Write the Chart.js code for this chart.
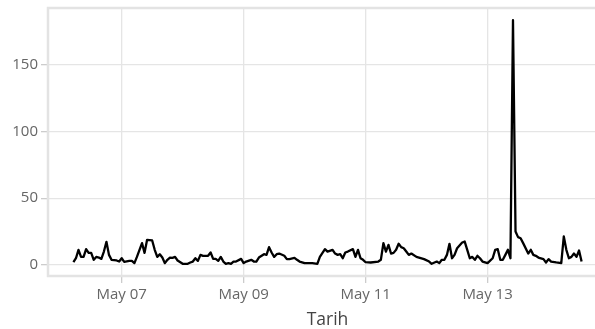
<!DOCTYPE html>
<html><head><meta charset="utf-8">
<script src="https://cdn.jsdelivr.net/npm/chart.js@4.4.1/dist/chart.umd.min.js"></script>
<style>
html,body{margin:0;padding:0;overflow:hidden;background:#fff;width:595px;height:329px}
#wrap{width:620px;height:329px}
</style></head><body>
<div id="wrap"><canvas id="c" width="620" height="329"></canvas></div>
<script>
const times = [
"05-06 05:00","05-06 06:00","05-06 07:00","05-06 08:00","05-06 09:00","05-06 10:00","05-06 11:00","05-06 12:00",
"05-06 13:00","05-06 14:00","05-06 15:00","05-06 16:00","05-06 17:00","05-06 18:00","05-06 19:00","05-06 20:00",
"05-06 22:00","05-06 23:00","05-07 00:00","05-07 01:00","05-07 03:00","05-07 04:00","05-07 05:00","05-07 06:00",
"05-07 08:00","05-07 09:00","05-07 10:00","05-07 12:00","05-07 13:00","05-07 14:00","05-07 15:00","05-07 16:00",
"05-07 17:00","05-07 18:00","05-07 19:00","05-07 20:00","05-07 21:00","05-07 22:00","05-08 00:00","05-08 02:00",
"05-08 03:00","05-08 04:00","05-08 05:00","05-08 06:00","05-08 07:00","05-08 08:00","05-08 10:00","05-08 11:00",
"05-08 12:00","05-08 13:00","05-08 14:00","05-08 15:00","05-08 16:00","05-08 17:00","05-08 18:00","05-08 19:00",
"05-08 20:00","05-08 21:00","05-08 23:00","05-09 00:00","05-09 01:00","05-09 03:00","05-09 04:00","05-09 05:00",
"05-09 06:00","05-09 08:00","05-09 09:00","05-09 10:00","05-09 11:00","05-09 12:00","05-09 13:00","05-09 14:00",
"05-09 16:00","05-09 17:00","05-09 18:00","05-09 20:00","05-09 21:00","05-09 22:00","05-10 00:00","05-10 03:00",
"05-10 05:00","05-10 06:00","05-10 08:00","05-10 09:00","05-10 11:00","05-10 12:00","05-10 13:00","05-10 14:00",
"05-10 15:00","05-10 16:00","05-10 17:00","05-10 19:00","05-10 20:00","05-10 21:00","05-10 22:00","05-10 23:00",
"05-11 00:00","05-11 02:00","05-11 05:00","05-11 06:00","05-11 07:00","05-11 08:00","05-11 09:00","05-11 10:00",
"05-11 11:00","05-11 12:00","05-11 13:00","05-11 14:00","05-11 15:00","05-11 16:00","05-11 17:00","05-11 18:00",
"05-11 20:00","05-11 21:00","05-11 23:00","05-12 01:00","05-12 02:00","05-12 04:00","05-12 05:00","05-12 06:00",
"05-12 07:00","05-12 08:00","05-12 09:00","05-12 10:00","05-12 11:00","05-12 12:00","05-12 14:00","05-12 15:00",
"05-12 16:00","05-12 17:00","05-12 18:00","05-12 19:00","05-12 20:00","05-12 21:00","05-12 22:00","05-13 00:00",
"05-13 02:00","05-13 03:00","05-13 04:00","05-13 05:00","05-13 06:00","05-13 07:00","05-13 08:00","05-13 09:00",
"05-13 10:00","05-13 11:00","05-13 12:00","05-13 13:00","05-13 14:00","05-13 16:00","05-13 17:00","05-13 18:00",
"05-13 19:00","05-13 20:00","05-13 22:00","05-13 23:00","05-14 00:00","05-14 01:00","05-14 03:00","05-14 05:00",
"05-14 06:00","05-14 07:00","05-14 08:00","05-14 09:00","05-14 10:00","05-14 11:00","05-14 12:00","05-14 13:00"
];
const values = [
2,5,11.3,6,6,11.8,9,9,
3.8,6,5.5,4.5,10,17.3,7.5,3.8,
3.3,2.5,5,2.3,3,3,1.3,6,
16.3,9,18.8,18.3,11.3,6,8,5.5,
1.3,3.8,5.5,5.3,6,3.3,0.8,0.8,
1.8,2.5,5,3,7.5,6.8,6.8,9.3,
4.5,4.5,3,6,2.5,0.8,1.3,0.8,
2.5,2.5,4.5,1.3,2.5,3.8,2.5,2.5,
5.5,8,7.5,13.3,9.3,6,8,8.5,
6.8,4.3,4.3,5.3,3.8,2.5,1.3,1.3,
0.8,6,11.8,10,11.3,8.5,7.5,8,
5,9.3,10,11.8,6,11.3,5,3.8,
2,1.8,2.5,3.8,16.3,10,15,8.5,
9,11.3,15.8,13.3,12.5,10,7.5,8.5,
6,5.5,4.3,2.5,0.8,2.5,1.3,3.8,
3.8,7.5,15.8,5,7.5,12.5,16.8,17.5,
11.3,5,6,3.8,6.8,5,2.5,1.3,
5,11.3,11.8,3.8,3.8,7.5,11.3,5,
183.5,25,20.8,20,16.3,8.5,11.3,7.5,
6.8,5.5,4.3,1.8,4.3,2.5,1.8,1.3,
21.3,11.3,5,6,8.5,6,10.8,2.5
];
const xTickTimes = ["05-07 00:00","05-09 00:00","05-11 00:00","05-13 00:00"];
const xTickLabels = ["May 07","May 09","May 11","May 13"];
const yTickValues = [0,50,100,150];
const xTitle = "Tarih";

function toHours(s){
  const [md, hm] = s.split(' ');
  const [mo, d] = md.split('-').map(Number);
  const [H, M] = hm.split(':').map(Number);
  return Date.UTC(2024, mo-1, d, H, M) / 3600000;
}
const xs = times.map(toHours);
const points = xs.map((x,i)=>({x:x, y:values[i]}));
const xMinD = Math.min(...xs), xMaxD = Math.max(...xs), xPad = 0.05*(xMaxD-xMinD);
const yMinD = Math.min(...values), yMaxD = Math.max(...values), yPad = 0.05*(yMaxD-yMinD);
const tickXs = xTickTimes.map(toHours);

const frame = {
  id:'frame',
  beforeDatasetsDraw(chart){
    const {ctx, chartArea:a} = chart;
    ctx.save();
    ctx.strokeStyle = '#e3e3e3';
    ctx.lineWidth = 2.5;
    ctx.strokeRect(a.left, a.top, a.right-a.left, a.bottom-a.top);
    ctx.restore();
  }
};

const tickFont = {family:'"Open Sans", sans-serif', size:15};

new Chart(document.getElementById('c'), {
  type:'line',
  data:{datasets:[{data:points, borderColor:'#000', borderWidth:2.3, pointRadius:0, tension:0, fill:false, borderJoinStyle:'round'}]},
  options:{
    responsive:false, animation:false, devicePixelRatio:1,
    layout:{padding:{left:0, top:8, right:13, bottom:0}},
    plugins:{legend:{display:false}, tooltip:{enabled:false}},
    scales:{
      x:{
        type:'linear', min:xMinD-xPad, max:xMaxD+xPad,
        afterBuildTicks(s){ s.ticks = tickXs.map(v=>({value:v})); },
        afterFit(s){ s.height = 53; s.paddingLeft = 0; s.paddingRight = 0; },
        ticks:{callback:(v,i)=>xTickLabels[i], font:tickFont, color:'#666', padding:3, maxRotation:0, autoSkip:false},
        grid:{color:'#e5e5e5', lineWidth:1.3, tickLength:7, tickColor:'#ccc'},
        border:{display:false},
        title:{display:true, text:xTitle, font:{family:'"Open Sans", sans-serif', size:17.5}, color:'#444', padding:{top:0,bottom:-2}}
      },
      y:{
        type:'linear', min:yMinD-yPad, max:yMaxD+yPad,
        afterBuildTicks(s){ s.ticks = yTickValues.map(v=>({value:v})); },
        afterFit(s){ s.width = 48; s.paddingTop = 0; s.paddingBottom = 0; },
        ticks:{font:tickFont, color:'#666', padding:3},
        grid:{color:'#e5e5e5', lineWidth:1.3, tickLength:7, tickColor:'#ccc'},
        border:{display:false}
      }
    }
  },
  plugins:[frame]
});
</script>
</body></html>
